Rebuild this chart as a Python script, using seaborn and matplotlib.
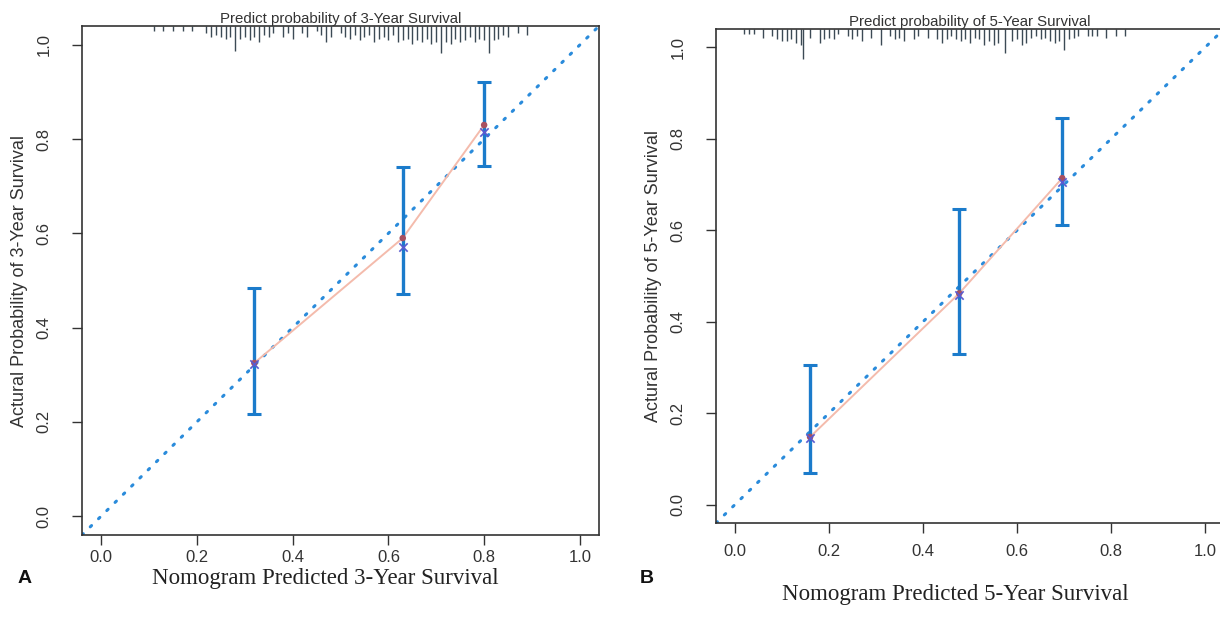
import numpy as np
import matplotlib
matplotlib.use("Agg")
import matplotlib.pyplot as plt
import seaborn as sns
import pandas as pd

# ---- data ----
# panel A: 3-year
pred_3y      = [0.32, 0.63, 0.80]
obs_3y       = [0.325, 0.59, 0.83]
corr_3y      = [0.322, 0.572, 0.815]
lo_3y        = [0.216, 0.472, 0.742]
hi_3y        = [0.485, 0.740, 0.922]

rug_x_3y = [0.11, 0.13, 0.15, 0.17, 0.19, 0.22, 0.23, 0.24, 0.25, 0.26, 0.27, 0.28,
            0.29, 0.30, 0.31, 0.32, 0.33, 0.34, 0.35, 0.36, 0.38, 0.39, 0.40, 0.42,
            0.43, 0.45, 0.46, 0.47, 0.48, 0.50, 0.51, 0.52, 0.53, 0.54, 0.55, 0.56,
            0.57, 0.58, 0.59, 0.60, 0.61, 0.62, 0.63, 0.64, 0.65, 0.66, 0.67, 0.68,
            0.69, 0.70, 0.71, 0.72, 0.73, 0.74, 0.75, 0.76, 0.77, 0.78, 0.79, 0.80,
            0.81, 0.82, 0.83, 0.84, 0.85, 0.87, 0.89]
rug_n_3y = [3, 3, 3, 3, 3, 4, 6, 5, 6, 7, 6, 14,
            7, 6, 8, 6, 9, 5, 6, 4, 6, 4, 7, 4,
            6, 3, 5, 9, 6, 4, 6, 7, 5, 8, 6, 5,
            9, 7, 6, 8, 5, 9, 8, 7, 10, 8, 9, 7,
            10, 9, 15, 9, 10, 7, 9, 8, 6, 9, 7, 8,
            15, 8, 7, 5, 6, 4, 5]

# panel B: 5-year
pred_5y      = [0.16, 0.477, 0.696]
obs_5y       = [0.148, 0.462, 0.714]
corr_5y      = [0.145, 0.458, 0.705]
lo_5y        = [0.070, 0.330, 0.611]
hi_5y        = [0.306, 0.646, 0.845]

rug_x_5y = [0.02, 0.03, 0.04, 0.06, 0.08, 0.09, 0.10, 0.11, 0.12, 0.13, 0.14, 0.145,
            0.16, 0.18, 0.19, 0.20, 0.21, 0.22, 0.24, 0.25, 0.26, 0.27, 0.29, 0.31,
            0.33, 0.34, 0.35, 0.36, 0.38, 0.39, 0.41, 0.43, 0.44, 0.45, 0.46, 0.47,
            0.48, 0.49, 0.50, 0.51, 0.52, 0.53, 0.54, 0.55, 0.56, 0.575, 0.59, 0.60,
            0.61, 0.62, 0.63, 0.64, 0.65, 0.66, 0.67, 0.68, 0.69, 0.70, 0.71, 0.72,
            0.73, 0.75, 0.76, 0.77, 0.79, 0.81, 0.83]
rug_n_5y = [3, 3, 3, 5, 4, 6, 7, 7, 6, 8, 9, 17,
            5, 8, 6, 5, 6, 3, 4, 6, 4, 7, 5, 9,
            4, 6, 5, 7, 6, 4, 5, 6, 8, 6, 4, 6,
            7, 6, 8, 5, 6, 9, 7, 9, 8, 14, 7, 6,
            9, 8, 5, 4, 6, 5, 7, 8, 7, 12, 6, 5,
            4, 4, 4, 4, 5, 4, 4]

ticks = [0.0, 0.2, 0.4, 0.6, 0.8, 1.0]

BLUE_BAR  = "#1B7BCB"
BLUE_DIAG = "#2A8BDB"
PINK      = "#F4BBAC"
DOT_RED   = "#A85060"
X_BLUE    = "#5A5ACF"

sns.set_style("ticks")
plt.rcParams["font.family"] = ["Liberation Sans", "DejaVu Sans"]

fig = plt.figure(figsize=(12.2, 6.21), dpi=100)
fig.patch.set_facecolor("white")

panels = [
    dict(rect=[0.0672, 0.1385, 0.4238, 0.8196], pred=pred_3y, obs=obs_3y, corr=corr_3y,
         lo=lo_3y, hi=hi_3y, rx=rug_x_3y, rn=rug_n_3y, yr="3", tag="A", tagx=0.014,
         xpad=4, labx=0.267, laby=0.069),
    dict(rect=[0.5869, 0.1578, 0.4164, 0.7955], pred=pred_5y, obs=obs_5y, corr=corr_5y,
         lo=lo_5y, hi=hi_5y, rx=rug_x_5y, rn=rug_n_5y, yr="5", tag="B", tagx=0.524,
         xpad=8, labx=0.783, laby=0.042),
]

for p in panels:
    ax = fig.add_axes(p["rect"])
    ax.set_xlim(-0.04, 1.04)
    ax.set_ylim(-0.04, 1.04)

    # ideal line
    ax.plot([-0.04, 1.04], [-0.04, 1.04], color=BLUE_DIAG, lw=2.2,
            linestyle=(0, (0.6, 3.2)), dash_capstyle="round", zorder=1)

    df = pd.DataFrame({"pred": p["pred"], "obs": p["obs"], "corr": p["corr"]})
    sns.lineplot(data=df, x="pred", y="obs", ax=ax, color=PINK, lw=1.4, zorder=2)

    err_lo = np.array(p["obs"]) - np.array(p["lo"])
    err_hi = np.array(p["hi"]) - np.array(p["obs"])
    ax.errorbar(p["pred"], p["obs"], yerr=[err_lo, err_hi], fmt="none",
                ecolor=BLUE_BAR, elinewidth=2.4, capsize=5, capthick=2.2, zorder=3)

    sns.scatterplot(data=df, x="pred", y="obs", ax=ax, color=DOT_RED, s=22,
                    edgecolor="none", zorder=4)
    sns.scatterplot(data=df, x="pred", y="corr", ax=ax, color=X_BLUE, marker="x",
                    s=36, linewidth=1.2, zorder=5)

    # rug of predicted probabilities hanging from top border
    rn = np.array(p["rn"]) * 0.0038
    ax.vlines(p["rx"], 1.04 - rn, 1.04, color="#3C4A55", lw=1.0, zorder=2)

    ax.set_xticks(ticks)
    ax.set_yticks(ticks)
    ax.set_xticklabels([f"{t:.1f}" for t in ticks])
    ax.set_yticklabels([f"{t:.1f}" for t in ticks], rotation=90, va="center")
    ax.tick_params(axis="both", direction="out", length=7, width=1.0,
                   color="#333333", labelsize=12, labelcolor="#333333")
    ax.tick_params(axis="x", pad=p["xpad"])
    ax.tick_params(axis="y", pad=15)
    for s in ax.spines.values():
        s.set_visible(True)
        s.set_color("#333333")
        s.set_linewidth(1.2)

    ax.set_xlabel("")
    ax.set_ylabel(f"Actural Probability of {p['yr']}-Year Survival",
                  fontsize=13, color="#333333", labelpad=6)
    ax.set_title(f"Predict probability of {p['yr']}-Year Survival",
                 fontsize=10.8, color="#333333", pad=2)

    fig.text(p["labx"], p["laby"], f"Nomogram Predicted {p['yr']}-Year Survival",
             family="Liberation Serif", fontsize=16.5, ha="center", va="center",
             color="#222222")
    fig.text(p["tagx"], 0.069, p["tag"], fontsize=14, fontweight="bold",
             ha="left", va="center", color="#111111")

fig.savefig("out.png", dpi=100)
